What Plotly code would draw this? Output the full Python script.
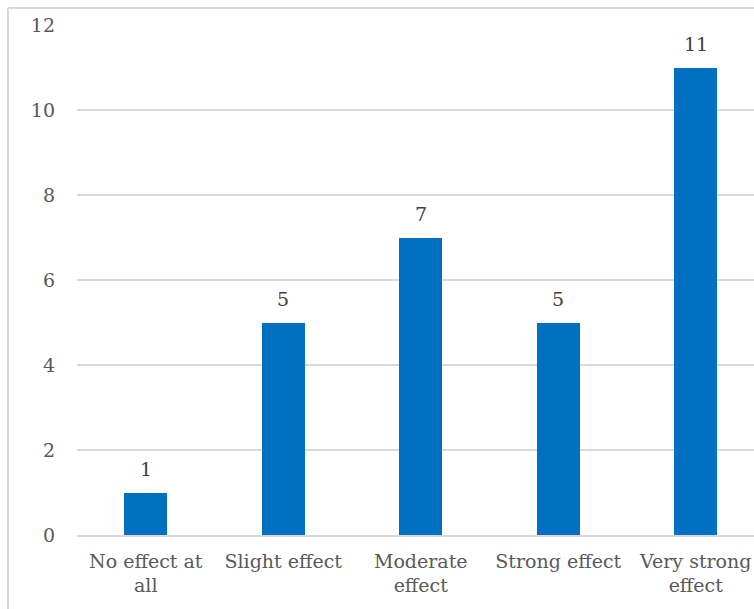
import plotly.graph_objects as go

categories = ["No effect at<br>all", "Slight effect", "Moderate<br>effect",
              "Strong effect", "Very strong<br>effect"]
counts = [1, 5, 7, 5, 11]
y_ticks = [0, 2, 4, 6, 8, 10, 12]

W, H = 754, 609
ml, mt, mb = 77, 25, 74
plot_w = W - ml
plot_h = H - mt - mb
cat_w = 137.5  # pixel width of one category band

FONT = "DejaVu Serif"
FS = 19

x_idx = list(range(len(categories)))

fig = go.Figure()
fig.add_trace(go.Bar(
    x=x_idx, y=counts, width=0.313,
    marker=dict(color="#0070C0", line=dict(width=0)),
    hoverinfo="skip",
))

# value labels above each bar
for i, v in zip(x_idx, counts):
    fig.add_annotation(x=i, y=v, text=str(v), showarrow=False,
                       yanchor="bottom", yshift=11,
                       font=dict(family=FONT, size=FS, color="#404040"))

# outer chart border (top and left edges visible)
bx = -(ml - 8) / plot_w
by = 1 + (mt - 8) / plot_h
fig.add_shape(type="line", xref="paper", yref="paper", x0=bx, x1=1.2, y0=by, y1=by,
              line=dict(color="#d9d9d9", width=2))
fig.add_shape(type="line", xref="paper", yref="paper", x0=bx, x1=bx, y0=by, y1=-0.3,
              line=dict(color="#d9d9d9", width=2))

fig.update_layout(
    width=W, height=H,
    margin=dict(l=ml, r=0, t=mt, b=mb, pad=0),
    paper_bgcolor="white", plot_bgcolor="white",
    showlegend=False,
    bargap=0,
    font=dict(family=FONT),
    xaxis=dict(
        tickmode="array", tickvals=x_idx, ticktext=categories,
        range=[-0.5, -0.5 + plot_w / cat_w],
        showgrid=False, zeroline=False,
        showline=True, linecolor="#d9d9d9", linewidth=1.5,
        ticks="", tickfont=dict(family=FONT, size=FS, color="#595959"),
        ticklabelstandoff=8, ticklabeloverflow="allow",
        fixedrange=True,
    ),
    yaxis=dict(
        range=[0, 12], tickmode="array", tickvals=y_ticks,
        showgrid=True, gridcolor="#d9d9d9", gridwidth=1.5,
        zeroline=False, showline=False,
        ticks="", tickfont=dict(family=FONT, size=FS, color="#595959"),
        ticklabelstandoff=21,
        fixedrange=True,
    ),
)

fig.write_html("out.html")
